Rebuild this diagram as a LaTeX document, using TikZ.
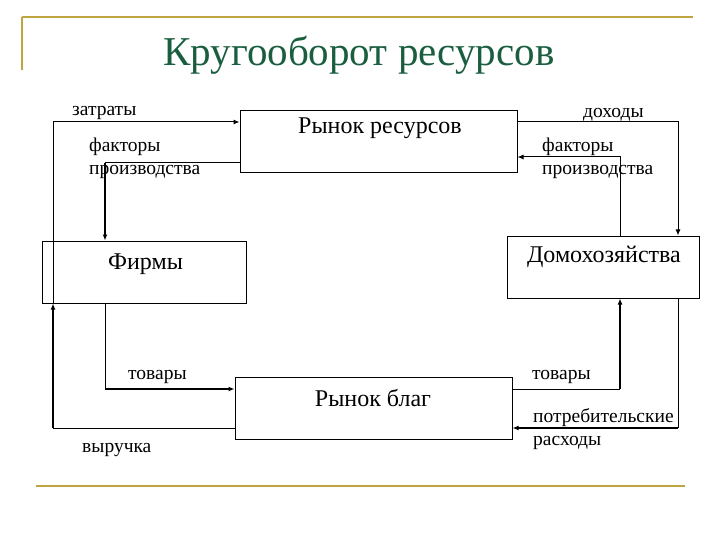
\documentclass[tikz,border=0pt]{standalone}
\usepackage{fontspec}
\setmainfont{Liberation Serif}
\usetikzlibrary{arrows.meta}
\definecolor{gold}{HTML}{BFA540}
\definecolor{titlegreen}{HTML}{1A5E3F}
\begin{document}
\begin{tikzpicture}[x=1pt,y=-1pt,
  box/.style={draw,line width=1pt,inner sep=0pt},
  lab/.style={font=\fontsize{19.5}{23}\selectfont,inner sep=0pt,align=left,anchor=base west},
  boxtext/.style={font=\fontsize{24}{28}\selectfont,inner sep=0pt,anchor=base},
  thinline/.style={line width=1pt},
  thin/.style={line width=1pt,-{Latex[length=6pt,width=5pt]}},
  thick/.style={line width=2pt,-{Latex[length=6pt,width=5pt]}}]
\useasboundingbox (0,0) rectangle (720,540);
% decorative frame
\draw[gold,line width=2.5pt] (22,17) -- (693,17);
\draw[gold,line width=2.5pt] (22,17) -- (22,70);
\draw[gold,line width=2.5pt] (36,486) -- (685,486);
% title
\node[titlegreen,font=\fontsize{41}{45}\selectfont,inner sep=0pt,anchor=base] (title) at (359,66) {Кругооборот ресурсов};
% boxes
\node[box,minimum width=277pt,minimum height=62pt] (rr) at (378.5,142) {};
\node[boxtext] (rrt) at (380,134) {Рынок ресурсов};
\node[box,minimum width=204pt,minimum height=62pt] (firm) at (144,272) {};
\node[boxtext] (firmt) at (145.5,269) {Фирмы};
\node[box,minimum width=192pt,minimum height=62pt] (hh) at (603,267) {};
\node[boxtext] (hht) at (604,262) {Домохозяйства};
\node[box,minimum width=277pt,minimum height=62pt] (rb) at (373.5,408) {};
\node[boxtext] (rbt) at (373,406) {Рынок благ};
% corner coordinates
\coordinate (a1) at (53,122);
\coordinate (a2) at (105,163);
\coordinate (a3) at (678,122);
\coordinate (a4) at (620,157);
\coordinate (a5) at (105,389);
\coordinate (a6) at (53,428);
\coordinate (a7) at (620,389);
\coordinate (a8) at (678,428);
% connectors
\draw[thin] (firm.south west -| a1) |- (rr.west |- a1);
\draw[thinline] (rr.west |- a2) -- (a2);
\draw[thick] (a2) -- (firm.north west -| a2);
\draw[thin] (rr.east |- a3) -| (hh.north west -| a3);
\draw[thin] (hh.north west -| a4) |- (rr.east |- a4);
\draw[thinline] (firm.south -| a5) -- (a5);
\draw[thick] (a5) -- (rb.west |- a5);
\draw[thinline] (rb.west |- a6) -- (a6);
\draw[thick] (a6) -- (firm.south west -| a6);
\draw[thinline] (rb.east |- a7) -- (a7);
\draw[thick] (a7) -- (hh.south west -| a7);
\draw[thinline] (hh.south west -| a8) -- (a8);
\draw[thick] (a8) -- (rb.east |- a8);
% labels
\node[lab] (l1) at (72,115.5) {затраты};
\node[lab] (l2) at (89,175) {факторы\\производства};
\node[lab] (l3) at (583,117.5) {доходы};
\node[lab] (l4) at (542,175) {факторы\\производства};
\node[lab] (l5) at (128,379) {товары};
\node[lab] (l6) at (82,452) {выручка};
\node[lab] (l7) at (532,379) {товары};
\node[lab] (l8) at (533,445) {потребительские\\расходы};
\end{tikzpicture}
\end{document}
